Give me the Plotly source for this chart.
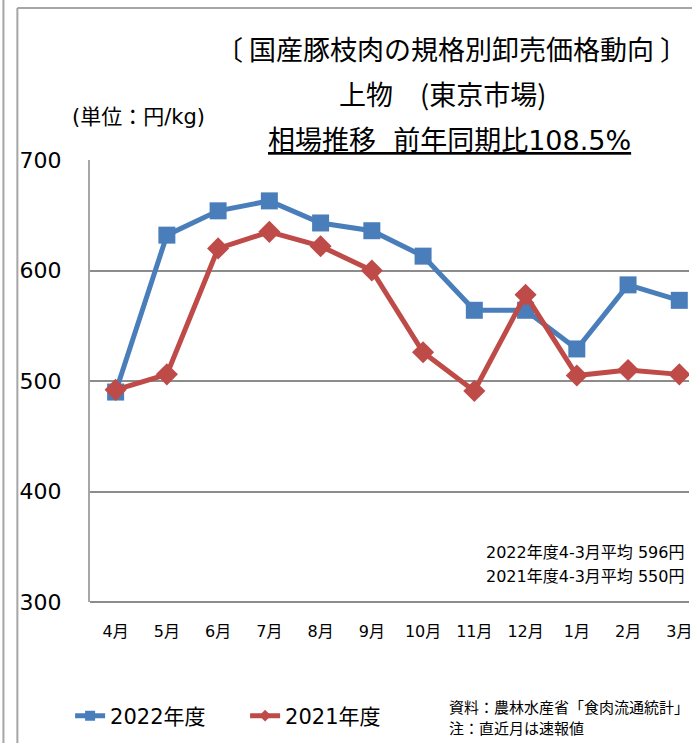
import plotly.graph_objects as go

months = ["4月", "5月", "6月", "7月", "8月", "9月", "10月", "11月", "12月", "1月", "2月", "3月"]
fy2022 = [490, 632, 654, 663, 643, 636, 613, 564, 564, 529, 587, 573]
fy2021 = [492, 506, 620, 635, 622, 600, 526, 491, 578, 505, 510, 506]
series_names = ["2022年度", "2021年度"]
y_ticks = [300, 400, 500, 600, 700]

W, H = 692, 743
L, T, R, B = 90, 160, 0, 141
PW, PH = W - L - R, H - T - B
CAT = 51.5  # px per category


def px(x):
    return (x - L) / PW


def py(y):
    return (H - B - y) / PH


FONT = "DejaVu Sans, Noto Sans CJK JP"
CJK = "Noto Sans CJK JP"
BLUE = "#4a7ebb"
RED = "#be4b48"
GRID = "#8c8c8c"
FRAME = "#a6a6a6"

fig = go.Figure()
fig.add_trace(go.Scatter(
    x=months, y=fy2022, name=series_names[0], mode="lines+markers", showlegend=False,
    line=dict(color=BLUE, width=5), legendgroup="a",
    marker=dict(symbol="square", size=17, color=BLUE),
))
fig.add_trace(go.Scatter(
    x=months, y=fy2021, name=series_names[1], mode="lines+markers", showlegend=False,
    line=dict(color=RED, width=5), legendgroup="b",
    marker=dict(symbol="diamond", size=17, color=RED),
))
# legend entries with smaller markers
fig.add_trace(go.Scatter(
    x=[None], y=[None], name=series_names[0], mode="lines+markers", legendgroup="a",
    line=dict(color=BLUE, width=5), marker=dict(symbol="square", size=10, color=BLUE),
))
fig.add_trace(go.Scatter(
    x=[None], y=[None], name=series_names[1], mode="lines+markers", legendgroup="b",
    line=dict(color=RED, width=5), marker=dict(symbol="diamond", size=9, color=RED),
))

fig.update_layout(
    width=W, height=H,
    margin=dict(l=L, r=R, t=T, b=B, pad=0),
    paper_bgcolor="white", plot_bgcolor="white",
    font=dict(family=FONT, color="#000000"),
    showlegend=True,
    legend=dict(orientation="h", x=px(70), y=py(716), xanchor="left", yanchor="middle",
                font=dict(size=21, family=FONT), tracegroupgap=0,
                entrywidth=130, bgcolor="rgba(0,0,0,0)"),
    xaxis=dict(
        type="category", range=[-0.5, -0.5 + PW / CAT],
        showgrid=False, showline=False, zeroline=False,
        ticks="", tickfont=dict(size=16, family=FONT),
        ticklabelstandoff=18,
    ),
    yaxis=dict(
        range=[300, 700], tickvals=y_ticks, ticktext=[str(v) for v in y_ticks],
        showgrid=True, gridcolor=GRID, gridwidth=2,
        showline=True, linecolor=FRAME, linewidth=2,
        zeroline=False, ticks="", tickfont=dict(size=22, family=FONT),
        ticklabelstandoff=22,
    ),
)

# bottom line of the plot
fig.add_shape(type="line", xref="paper", yref="paper", x0=0, x1=1, y0=0, y1=0,
              line=dict(color=GRID, width=2))

# outer borders
fig.add_shape(type="line", xref="paper", yref="paper", x0=px(3), x1=px(3), y0=py(0), y1=py(743),
              line=dict(color=FRAME, width=2))
fig.add_shape(type="line", xref="paper", yref="paper", x0=px(17), x1=px(17), y0=py(8), y1=py(743),
              line=dict(color=FRAME, width=2))
fig.add_shape(type="line", xref="paper", yref="paper", x0=px(17), x1=px(700), y0=py(8), y1=py(8),
              line=dict(color=FRAME, width=2))

ann = [
    dict(text="〔 国産豚枝肉の規格別卸売価格動向 〕", x=px(453), y=py(48), size=27, xanchor="center", fam=CJK),
    dict(text="上物　(東京市場)", x=px(444), y=py(93), size=27, xanchor="center", fam=CJK),
    dict(text="<u>相場推移\u00a0\u00a0前年同期比108.5%</u>", x=px(451), y=py(141), size=27, xanchor="center", fam=FONT),
    dict(text="(単位：円/kg)", x=px(70), y=py(117), size=21, xanchor="left", fam=FONT),
    dict(text="2022年度4-3月平均 596円", x=px(689), y=py(552), size=16, xanchor="right", fam=FONT),
    dict(text="2021年度4-3月平均 550円", x=px(689), y=py(576), size=16, xanchor="right", fam=FONT),
    dict(text="資料：農林水産省「食肉流通統計」", x=px(449), y=py(706), size=15, xanchor="left", fam=CJK),
    dict(text="注：直近月は速報値", x=px(449), y=py(727), size=15, xanchor="left", fam=CJK),
]
for a in ann:
    fig.add_annotation(text=a["text"], x=a["x"], y=a["y"], xref="paper", yref="paper",
                       xanchor=a["xanchor"], yanchor="middle", showarrow=False,
                       font=dict(size=a["size"], family=a["fam"], color="#000000"))

fig.write_html(
    "out.html",
    config={"displayModeBar": False},
    post_script="document.body.style.margin='0';document.documentElement.style.overflow='hidden';",
)
